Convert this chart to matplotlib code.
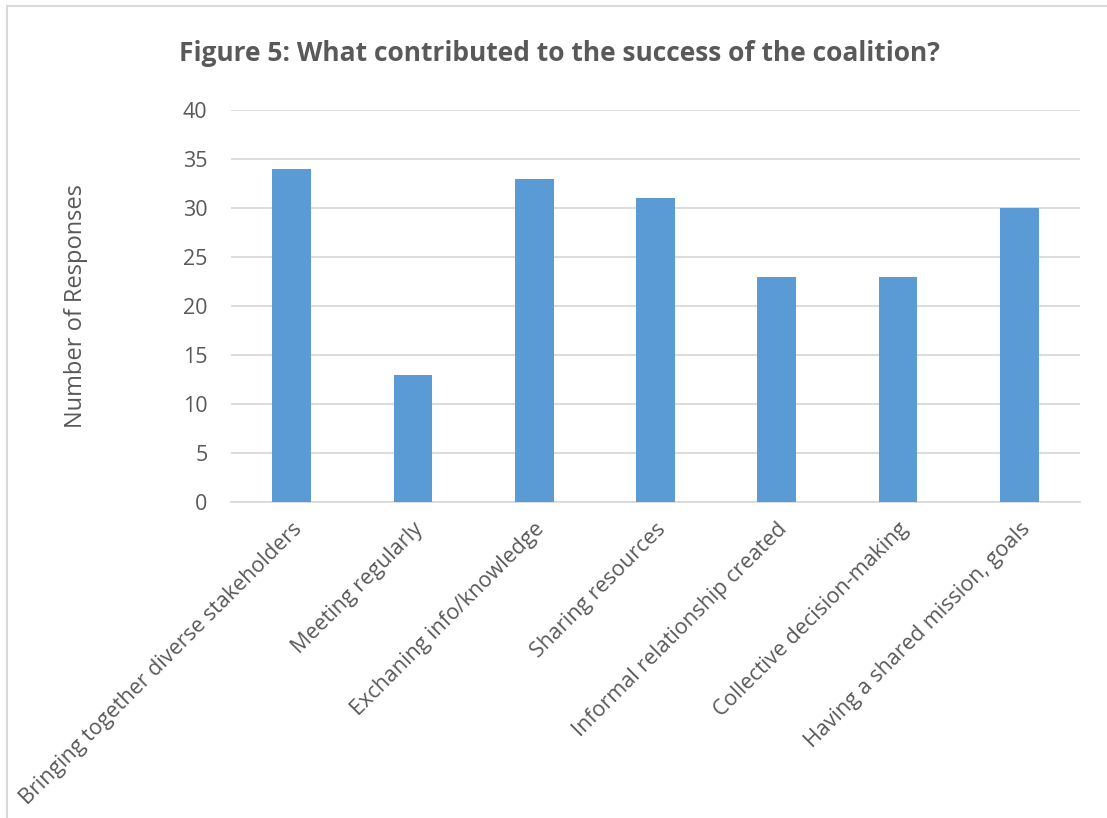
import matplotlib.pyplot as plt
from matplotlib.patches import Rectangle

categories = ["Bringing together diverse stakeholders", "Meeting regularly",
              "Exchaning info/knowledge", "Sharing resources",
              "Informal relationship created", "Collective decision-making",
              "Having a shared mission, goals"]
responses = [34, 13, 33, 31, 23, 23, 30]
yticks = [0, 5, 10, 15, 20, 25, 30, 35, 40]

plt.rcParams['font.family'] = ['Open Sans', 'DejaVu Sans']
grey = '#595959'

fig = plt.figure(figsize=(11.07, 8.18), dpi=100)
ax = fig.add_axes([0.2087, 0.3863, 0.7669, 0.4792])

x = range(len(categories))
ax.bar(x, responses, width=0.32, color='#5b9bd5', zorder=3)

ax.set_xlim(-0.5, len(categories) - 0.5)
ax.set_ylim(0, 40)
ax.set_yticks(yticks)
ax.yaxis.grid(True, color='#d9d9d9', linewidth=1.3, zorder=0)
ax.set_xticks(list(x))
ax.set_xticklabels(categories, rotation=45, ha='right', rotation_mode='anchor',
                   fontsize=15.5, color=grey)
ax.tick_params(axis='y', labelsize=15.5, labelcolor=grey, length=0, pad=17)
ax.tick_params(axis='x', length=0, pad=12)
for s in ['top', 'right', 'left']:
    ax.spines[s].set_visible(False)
ax.spines['bottom'].set_color('#d9d9d9')
ax.spines['bottom'].set_linewidth(1.3)

ax.set_ylabel('Number of Responses', fontsize=17, color=grey, labelpad=68)

fig.text(0.505, 0.935, 'Figure 5: What contributed to the success of the coalition?',
         ha='center', va='center', fontsize=19, fontweight='bold', color=grey)

fig.patches.append(Rectangle((0.0063, -0.1), 1.2, 1.0927, transform=fig.transFigure,
                             fill=False, edgecolor='#d9d9d9', linewidth=1.5))

fig.savefig('out.png', dpi=100)
